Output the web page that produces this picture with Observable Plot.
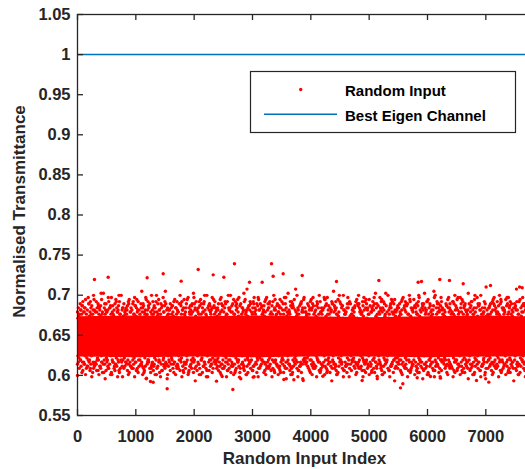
<!DOCTYPE html>
<html><head><meta charset="utf-8">
<script src="https://cdn.jsdelivr.net/npm/d3@7"></script>
<script src="https://cdn.jsdelivr.net/npm/@observablehq/plot@0.6"></script>
<style>
html,body{margin:0;padding:0;background:#fff;overflow:hidden;width:525px;height:469px}
#chart{position:relative;width:525px;height:469px;overflow:hidden}
#chart svg{max-width:none !important;}
</style></head><body><div id="chart"></div>
<script>
// ---- data ----
const xTicks = [0, 1000, 2000, 3000, 4000, 5000, 6000, 7000];
const yTicks = [0.55, 0.6, 0.65, 0.7, 0.75, 0.8, 0.85, 0.9, 0.95, 1, 1.05];
const xMax = 7800;                 // number of random inputs (axis limit)
const bestEigenValue = 1;          // best eigen channel transmittance
const seriesNames = ["Random Input", "Best Eigen Channel"];

// dense core of the random-input cloud (solid red band)
const coreIndex = [0, 1000, 2000, 3000, 4000, 5000, 6000, 7000, 7800];
const coreLow   = [0.623, 0.622, 0.623, 0.622, 0.623, 0.623, 0.622, 0.623, 0.623];
const coreHigh  = [0.673, 0.674, 0.673, 0.674, 0.673, 0.672, 0.673, 0.674, 0.673];

// sampled random inputs above / below the core, one character per sampled input
const codeAlphabet = "ABCDEFGHIJKLMNOPQRSTUVWXYZabcdefghijklmnopqrstuvwxyz0123456789+/";
const codeBase = 0.575, codeStep = 0.0026;
// even-numbered samples
const upperCodesA =
 "oqnsprtoqunpvsoqrnwpotqsnpruoxqnsoptqrvonpsuqortnwp" +
 "qsopnrtuoqpsnvrqotpnsyqropuntqsowpnrqtosupnqrvotspq" +
 "npsqrotuqnposwrtpqnosuvqnproxsqtponrusqotpnwqrsopvq" +
 "rtopqsnuvproqsntwpqorsuntpqovrsnqptuozqrpsontvqpsru" +
 "psqnortuvpqsnortwqpnsoruqtpnvsqoxpnrtsqupowqnrstpov" +
 "qonsrptuqvnoprsqwtonpqursvpnqotsyrpqnuotsqrwpnoqvst" +
 "snpqortuswqpnorvtqspnuroqtpsxqnrovpuqtsnrowpqsutnop" +
 "oprqsntuvqporsnwtqpourqsntvpoqrsxnptuqsopnrvwqtospr" +
 "tqnposruvqpnotswrqpnovsutqrponxsqrtpnuoqvsrpwnqots0" +
 "pnqrsotuvpqnorwstqpnoursvqtnpoqsrzpntuqovsrpqwnostq";
const lowerCodesA =
 "PQNROLMQPKNORQMPJLNOQPRMKONQLPRIMQONPKLRQNMPOJQLNRO" +
 "RNOQPMKLQONRPJQMNLORPQKNMOIPRQNLOQMPKRNOQLJPMRONQPK" +
 "OQMPRNLQKOPNRMQJOLPNQRKMOPNQLRHOMQPNKRLOQPNMJQROPLN" +
 "QRPNOMQLKPRNOQJMPNRLQOKPMNRQOLIPQNMRKOLPQNRMOJPQLRN" +
 "NOPRQLMKNQROPMJNQLRPOKNMQRPLONIQRPMKNLOQPRNJMOQLPRQ" +
 "RPQONMLRKQPNOJRQMLNPOQKRNMPQLOHRQNPMKLOQRPNJMQOLPRN" +
 "PMQRONKLPQRNOMJQPLRNOKQPMRNLQOIPRQNMKOLPQRNMJOPQLRN" +
 "OQNPRMLKQONPRJMQLNOPRKQMNPLROQIMPNQKLROPQNMJRQPOLNR" +
 "MRQPNOLKRQPONJMLQRNPOKQMRNLPOQIRMNPKQLORPNQMJOPRQLN" +
 "QNROPMKLQRNPOJQMLRNOPKQRMNLPOQHRNMQKPLORQNPJMOQRLPN";
// odd-numbered samples
const upperCodesB =
 "lmfpnrfoqfflsmtnfpuflofrqmxnffspofvlqnfrmfftopwnflq" +
 "mfnqpfslofftnrmupfflqosfnvmprfflntqofwmnpfsfloryfmn" +
 "pflnrmffqtolfsnpfumqfflornsfvpmflqtfnfoswlmffprnqfu" +
 "nqfmplfosrfftmnfqpwlofnfrsumfflqoxfnpmfrtflqsonffvp" +
 "flrnpmoffsqtflnfpumrfoqnffslpvmfnotfqrflzmnpffsoquf" +
 "omflnqfpsrffmtlnfoqpfvumfnrflpsfoqtnfmwffrlpnofsqfm" +
 "fnpmqfflrsofntmpfulqnffoprvfmslfnqtofpmxfflnrqofsum" +
 "lqfmonpffrtsfnlumfpqffonrwmflspfqotfnfrmlpyffnsqofv" +
 "pnfmlrfqosfftnmpfuvlfqofnrsfmplfotfnqwffmrsplfnoqfm" +
 "fmqnlfpsrfotfnmuflqpffvnorfsmlfqptfn0fmrosflnpqffum";
const lowerCodesB =
 "TSZRUQZPTZSOZRNTZQPZZMSRZOTQZLPZSRNZZTKQZOPSZRMZTQJ" +
 "ZSTQZRPZOZTNSZQMZRZTPOZLSZZQRTZNPZOSZKZTRQZMZSPOZIT" +
 "RZTSZPQZZNOTZRSZMQZPTZLZORZSQNZZTPKZRSZOQZJTZMZRPSZ" +
 "ZTQRSZOZPNZTZSQMRZZOPTZLSZQRZNZTPOZZKSRZQTZMOZZPSJT" +
 "SZRTZQPZOZNSTZRZMQZPZTOLZSRZZQNTZPOZKRZSTZQMZOPZIRS" +
 "ZQSTZRZPONZZTSRZQMPZZTOZLRSZQZNTPZOKZSZRTQZMZOPSZJZ" +
 "TRZSZQPZONZTZSRMZQZPTZOLZRSZQNZTZPOKZSRZQTZMZOPZRHS" +
 "ZSQTZRPZZOSNTZRZMQPZTZOZLSRQZNZTPZOZKRSZTQZMOZPSZJR" +
 "QZTSRZPZONZZTSQRZMPZTZOLZSZRQNZTPZOZKSRZTQZMZOPSZIT" +
 "ZRTSZQPZOZNTSZRZMQZPTZOLZSRZQNZTZPOKZSZRTQMZZOPSZJZ";

// individually read outlying random inputs
const outlierIndex = [291, 526, 1194, 1469, 1777, 2069, 2326, 2509, 2691, 2949, 3166, 3326, 3354, 3526, 3852, 4440, 5166, 5840, 5897, 6211, 6377, 6612, 7080, 7623,
                      0, 1183, 1251, 1297, 1537, 2383, 2480, 2663, 2777, 3012, 3537, 3709, 3869, 4206, 4880, 5137, 5537, 5577, 5823, 6051, 6223, 6840, 6983, 7051];
const outlierValue = [0.7196, 0.7224, 0.7217, 0.7267, 0.7175, 0.732, 0.7254, 0.7224, 0.7392, 0.7162, 0.7162, 0.7392, 0.7237, 0.7267, 0.7246, 0.717, 0.7183, 0.7162, 0.717, 0.7196, 0.7183, 0.7142, 0.7121, 0.7092,
                      0.600, 0.5965, 0.5924, 0.5915, 0.5833, 0.5928, 0.5987, 0.5824, 0.5978, 0.5978, 0.5949, 0.5945, 0.5937, 0.599, 0.5937, 0.599, 0.5845, 0.5895, 0.597, 0.5986, 0.5966, 0.5937, 0.6006, 0.5916];

// ---- build tables ----
const core = coreIndex.map((x, i) => ({x, lo: coreLow[i], hi: coreHigh[i]}));
const decode = (codes, phase) => Array.from(codes, (c, i) => ({x: (i + phase) * xMax / codes.length, y: codeBase + codeAlphabet.indexOf(c) * codeStep}));
const cloud = decode(upperCodesA, 0).concat(decode(lowerCodesA, 0), decode(upperCodesB, 0.5), decode(lowerCodesB, 0.5));
const outliers = outlierIndex.map((x, i) => ({x, y: outlierValue[i]}));

const W = 542, H = 469, mL = 77, mR = 10, mT = 14, mB = 54;
const plotW = W - mL - mR, plotH = H - mT - mB;
const axisColor = "#262626";
const red = "#ff0000", blue = "#0072BD";
const font = "'Liberation Sans', Arial, Helvetica, sans-serif";

const plot = Plot.plot({
  width: W, height: H,
  marginLeft: mL, marginRight: mR, marginTop: mT, marginBottom: mB,
  style: {fontFamily: font, fontSize: "16.5px", fontWeight: "bold", color: axisColor, background: "white", overflow: "visible", maxWidth: "none"},
  x: {domain: [0, xMax]},
  y: {domain: [0.55, 1.05]},
  marks: [
    Plot.areaY(core, {x: "x", y1: "lo", y2: "hi", fill: red, curve: "linear"}),
    Plot.dot(cloud, {x: "x", y: "y", r: 1.7, fill: red, stroke: "none"}),
    Plot.dot(outliers, {x: "x", y: "y", r: 1.7, fill: red, stroke: "none"}),
    Plot.ruleY([bestEigenValue], {stroke: blue, strokeWidth: 1.5}),
    Plot.frame({stroke: axisColor, strokeWidth: 1.3}),
    Plot.tickX(xTicks, {x: d => d, insetTop: plotH - 6, stroke: axisColor, strokeWidth: 1.3}),
    Plot.tickX(xTicks, {x: d => d, insetBottom: plotH - 6, stroke: axisColor, strokeWidth: 1.3}),
    Plot.tickY(yTicks, {y: d => d, insetRight: plotW - 6, stroke: axisColor, strokeWidth: 1.3}),
    Plot.axisX({ticks: xTicks, tickSize: 0, tickPadding: 15, label: null, tickFormat: d => String(d)}),
    Plot.axisY({ticks: yTicks, tickSize: 0, tickPadding: 7, label: null, tickFormat: d => String(d)})
  ]
});
plot.style.maxWidth = "none";
plot.style.height = H + "px";

const svg = d3.select(plot);
const xr = plot.scale("x").range, yr = plot.scale("y").range;
svg.append("text")
  .attr("x", (xr[0] + xr[1]) / 2).attr("y", 464)
  .attr("text-anchor", "middle").attr("fill", axisColor)
  .style("font-size", "17px").style("font-weight", "bold").style("font-family", font)
  .text("Random Input Index");
svg.append("text")
  .attr("transform", `translate(25,${(yr[0] + yr[1]) / 2 - 3}) rotate(-90)`)
  .attr("text-anchor", "middle").attr("fill", axisColor)
  .style("font-size", "17px").style("font-weight", "bold").style("font-family", font)
  .text("Normalised Transmittance");

// legend
const lg = svg.append("g").attr("text-anchor", "start").style("font-family", font).style("font-weight", "bold").style("font-size", "15px");
lg.append("rect").attr("x", 250.5).attr("y", 71.5).attr("width", 265).attr("height", 61)
  .attr("fill", "white").attr("stroke", axisColor).attr("stroke-width", 1.2);
lg.append("circle").attr("cx", 300.7).attr("cy", 89.5).attr("r", 1.7).attr("fill", red);
lg.append("text").attr("x", 345).attr("y", 96).attr("fill", "#000").text(seriesNames[0]);
lg.append("line").attr("x1", 264).attr("x2", 337).attr("y1", 114.3).attr("y2", 114.3)
  .attr("stroke", blue).attr("stroke-width", 1.5);
lg.append("text").attr("x", 345).attr("y", 121).attr("fill", "#000").text(seriesNames[1]);

document.getElementById("chart").appendChild(plot);
</script></body></html>
